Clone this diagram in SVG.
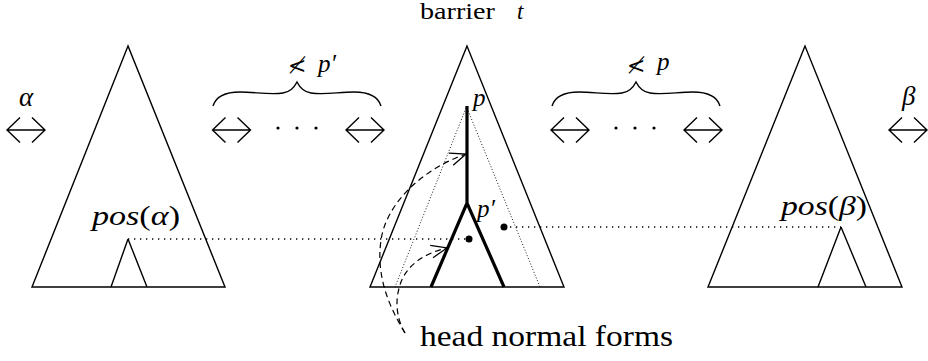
<svg xmlns="http://www.w3.org/2000/svg" width="928" height="361" viewBox="0 0 928 361">
<style>
.ln{fill:none;stroke:#000;stroke-width:1.4;stroke-linejoin:miter}
.thick{fill:none;stroke:#000;stroke-width:3.2;stroke-linejoin:miter}
.dotl{fill:none;stroke:#000;stroke-width:1.3;stroke-dasharray:1.3 4.7}
.fine{fill:none;stroke:#000;stroke-width:0.9;stroke-dasharray:1 2}
.dash{fill:none;stroke:#000;stroke-width:1.2;stroke-dasharray:6 4}
.s{font-family:'Liberation Serif','Times New Roman',Times,'DejaVu Serif',serif}
.d{font-family:'DejaVu Serif','Liberation Serif',serif}
.m{font-style:italic}
</style>
<defs>
<marker id="oa" markerUnits="userSpaceOnUse" markerWidth="20" markerHeight="20" refX="0" refY="0" viewBox="-17 -9 19 18" orient="auto">
<path d="M-15,-6 L0,0 L-15,6" fill="none" stroke="#000" stroke-width="1.2"/>
</marker>
<path id="dbl" d="M-19,0 H19 M-6,-12.5 L-19,0 L-6,12.5 M6,-12.5 L19,0 L6,12.5" fill="none" stroke="#000" stroke-width="1.4"/>
<path id="brace" d="M0,24 C3,14 12,10 27,10 C42,10 57,13 70,11 C77,10 81,6 84,0 C87,6 91,10 98,11 C111,13 126,10 141,10 C156,10 165,14 168,24" fill="none" stroke="#000" stroke-width="1.4"/>
</defs>

<g id="title">
<text x="420" y="19" class="s" style="font-family:'Liberation Serif',serif" font-size="23" textLength="75" lengthAdjust="spacingAndGlyphs">barrier</text>
<text x="517" y="19" class="s m" style="font-family:'Liberation Serif',serif" font-size="23">t</text>
</g>

<g id="alpha-arrow">
<text x="19" y="106" class="s m" style="font-family:'Liberation Serif',serif" font-size="27">α</text>
<use href="#dbl" x="26" y="130"/>
</g>

<g id="left-tree">
<path class="ln" d="M128,46 L32,287 H225 Z"/>
<path class="ln" d="M128,239 L111,287 M128,239 L147,287"/>
<text x="92" y="225" class="s" style="font-family:'Liberation Serif',serif" font-size="28" textLength="88" lengthAdjust="spacingAndGlyphs"><tspan class="m">pos</tspan>(<tspan class="m">α</tspan>)</text>
</g>

<g id="left-group">
<use href="#brace" x="213" y="82"/>
<text x="288" y="73" class="d" font-size="22">≮</text>
<text x="318" y="72" class="s m" style="font-family:'Liberation Serif',serif" font-size="25">p′</text>
<use href="#dbl" x="231.5" y="130"/>
<circle cx="278" cy="128" r="1.6"/>
<circle cx="297" cy="128" r="1.6"/>
<circle cx="316" cy="128" r="1.6"/>
<use href="#dbl" x="365" y="130"/>
</g>

<g id="barrier-tree">
<path class="ln" d="M467,46 L370,287 H564 Z"/>
<path class="fine" d="M466,108 L395,287 M467,108 L540,287"/>
<path class="thick" d="M467,106 V203 M431,287 L467,203 L504,287"/>
<circle cx="469" cy="239" r="3.5"/>
<circle cx="504" cy="227" r="3.5"/>
<text x="473" y="106" class="s m" style="font-family:'Liberation Serif',serif" font-size="25">p</text>
<text x="477" y="217" class="s m" style="font-family:'Liberation Serif',serif" font-size="25">p′</text>
</g>

<g id="right-group">
<use href="#brace" x="552" y="82"/>
<text x="627" y="73" class="d" font-size="22">≮</text>
<text x="657" y="70" class="s m" style="font-family:'Liberation Serif',serif" font-size="25">p</text>
<use href="#dbl" x="570" y="130"/>
<circle cx="616" cy="128" r="1.6"/>
<circle cx="635" cy="128" r="1.6"/>
<circle cx="654" cy="128" r="1.6"/>
<use href="#dbl" x="703" y="130"/>
</g>

<g id="right-tree">
<path class="ln" d="M805,46 L708,287 H902 Z"/>
<path class="ln" d="M841,227 L818,287 M841,227 L866,287"/>
<text x="781" y="215" class="s" style="font-family:'Liberation Serif',serif" font-size="28" textLength="86" lengthAdjust="spacingAndGlyphs"><tspan class="m">pos</tspan>(<tspan class="m">β</tspan>)</text>
</g>

<g id="beta-arrow">
<text x="902" y="105" class="s m" style="font-family:'Liberation Serif',serif" font-size="27">β</text>
<use href="#dbl" x="908" y="130"/>
</g>

<g id="hnf-label">
<text x="420" y="346" class="s" style="font-family:'Liberation Serif',serif" font-size="30" textLength="253" lengthAdjust="spacingAndGlyphs">head normal forms</text>
</g>

<g id="connectors">
<path class="dotl" d="M128,239 H469"/>
<path class="dotl" d="M504,227 H841"/>
<path class="dash" d="M405,333 C388,305 376,275 381,240 C386,205 420,170 466,154" marker-end="url(#oa)"/>
<path class="dash" d="M405,333 C396,318 395,300 400,285 C406,265 425,253 447,248" marker-end="url(#oa)"/>
</g>
</svg>
